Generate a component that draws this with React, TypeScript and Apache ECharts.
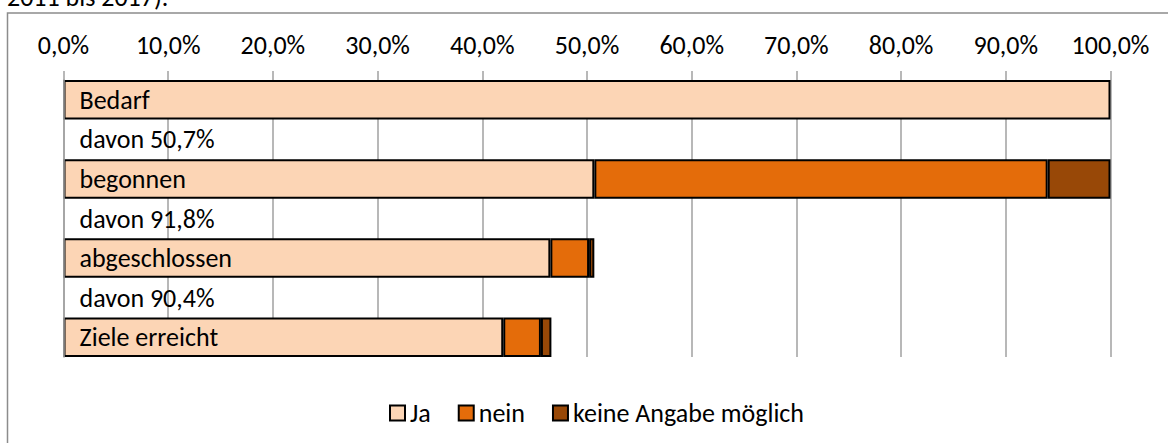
import React, { useEffect, useRef } from "react";
import * as echarts from "echarts";

const categories = [
  "Bedarf",
  "davon 50,7%",
  "begonnen",
  "davon 91,8%",
  "abgeschlossen",
  "davon 90,4%",
  "Ziele erreicht",
];
const seriesNames = ["Ja", "nein", "keine Angabe möglich"];
const jaValues = [100, null, 50.7, null, 46.5, null, 42.0];
const neinValues = [null, null, 43.3, null, 3.7, null, 3.6];
const keineValues = [null, null, 6.0, null, 0.5, null, 1.0];
const colors = ["#FCD5B5", "#E46C0A", "#984807"];
const titleFragment = "2011 bis 2017).";

const FONT = "Carlito, Calibri, Lato, sans-serif";
const FS = 26;

export default function App() {
  const ref = useRef<HTMLDivElement>(null);
  useEffect(() => {
    if (!ref.current) return;
    const chart = echarts.init(ref.current, null, { renderer: "svg" });
    const values = [jaValues, neinValues, keineValues];
    chart.setOption({
      animation: false,
      textStyle: { fontFamily: FONT },
      graphic: [
        {
          type: "rect",
          shape: { x: 7.5, y: 13, width: 1200, height: 500 },
          style: { fill: "none", stroke: "#8c8c8c", lineWidth: 1.5 },
          silent: true,
        },
        {
          type: "text",
          x: 7,
          y: 10,
          style: {
            text: titleFragment,
            font: `${FS}px ${FONT}`,
            fill: "#000",
            verticalAlign: "bottom",
          },
        },
      ],
      legend: {
        data: seriesNames,
        top: 395,
        left: 384,
        itemWidth: 15,
        itemHeight: 15,
        itemGap: 27,
        icon: "rect",
        textStyle: { fontSize: FS, color: "#000", fontFamily: FONT },
        itemStyle: { borderColor: "#000", borderWidth: 2 },
      },
      grid: { left: 63.5, right: 57.5, top: 80, height: 277, containLabel: false },
      xAxis: {
        type: "value",
        position: "top",
        min: 0,
        max: 100,
        interval: 10,
        axisLine: { show: false },
        axisTick: { show: true, length: 9, lineStyle: { color: "#a0a0a0", width: 1.5 } },
        splitLine: { show: true, lineStyle: { color: "#a0a0a0", width: 1.5 } },
        axisLabel: {
          margin: 22,
          fontSize: FS,
          color: "#000",
          fontFamily: FONT,
          formatter: (v: number) => v.toFixed(1).replace(".", ",") + "%",
        },
      },
      yAxis: {
        type: "category",
        data: categories,
        inverse: true,
        axisLine: { show: true, lineStyle: { color: "#a0a0a0", width: 1.5 } },
        axisTick: { show: false },
        axisLabel: {
          inside: true,
          margin: 16,
          fontSize: FS,
          color: "#000",
          fontFamily: FONT,
        },
        z: 10,
      },
      series: seriesNames.map((name, i) => ({
        name,
        type: "bar",
        stack: "total",
        barCategoryGap: "0%",
        barWidth: "100%",
        data: values[i],
        itemStyle: { color: colors[i], borderColor: "#000", borderWidth: 2 },
        z: 2,
      })),
    });
    return () => chart.dispose();
  }, []);
  return (
    <div
      ref={ref}
      style={{ position: "absolute", left: 0, top: 0, width: 1168, height: 443 }}
    />
  );
}
